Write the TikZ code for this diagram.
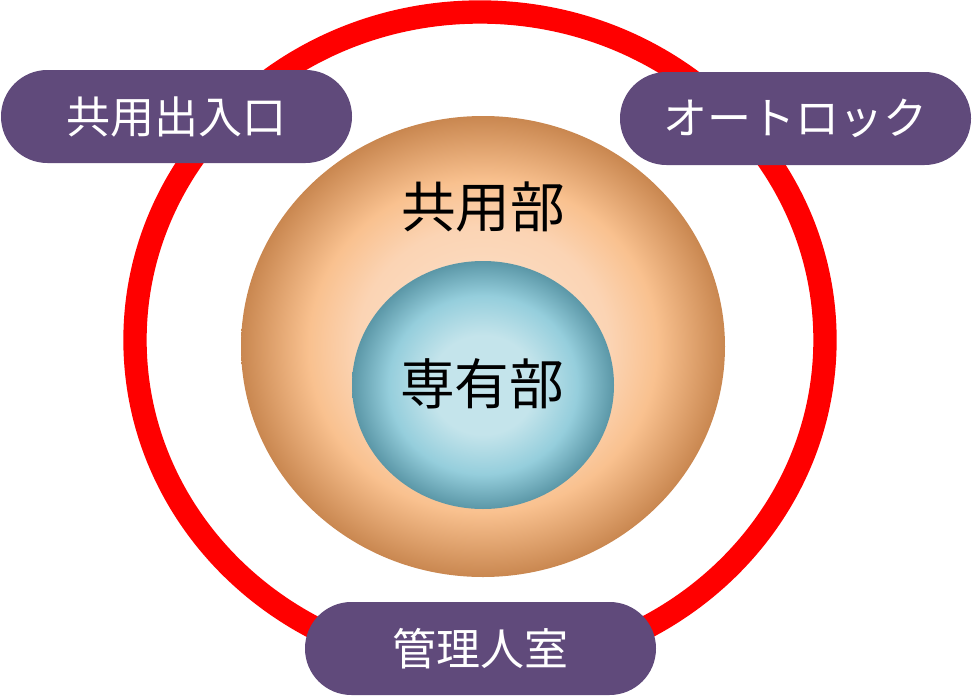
\documentclass[tikz,border=0pt]{standalone}
\usepackage{fontspec}
\newfontfamily\jpfont{Noto Sans CJK JP}
\usepackage{tikz}

\definecolor{pillpurple}{HTML}{604A7B}
\definecolor{ringred}{HTML}{FF0000}
\definecolor{sharedlight}{HTML}{FCE3CE}
\definecolor{sharedpale}{HTML}{FBD4B4}
\definecolor{sharedmid}{HTML}{F9C18F}
\definecolor{shareddark}{HTML}{C98750}
\definecolor{privatelight}{HTML}{C4E4EB}
\definecolor{privatemid}{HTML}{95CEDC}
\definecolor{privatedark}{HTML}{5B97A7}

\pgfdeclareradialshading{sharedshade}{\pgfpoint{0bp}{0bp}}{color(0bp)=(sharedlight); color(13bp)=(sharedpale); color(18bp)=(sharedmid); color(25bp)=(shareddark); color(50bp)=(shareddark)}
\pgfdeclareradialshading{privateshade}{\pgfpoint{0bp}{0bp}}{color(0bp)=(privatelight); color(10bp)=(privatelight); color(18bp)=(privatemid); color(25bp)=(privatedark); color(50bp)=(privatedark)}

\begin{document}
\begin{tikzpicture}[x=0.75pt,y=0.75pt,yscale=-1,xscale=1,
    pill/.style={fill=pillpurple, text=white, rounded corners=34.8pt, minimum width=263.25pt, minimum height=69.75pt, inner sep=0pt, font=\jpfont\fontsize{33}{33}\selectfont},
    zonelabel/.style={text=black, inner sep=0pt, font=\jpfont\fontsize{41}{41}\selectfont}]
    \useasboundingbox (0,0) rectangle (972,696);

    %Shape: Ellipse [red ring]
    \draw [color=ringred, line width=17.5pt] (480,340) ellipse [x radius=345, y radius=328];
    %Shape: Ellipse [common area]
    \shade [shading=sharedshade] (483,346.5) ellipse [x radius=242, y radius=230.5];
    %Shape: Ellipse [private area]
    \shade [shading=privateshade] (483,385) ellipse [x radius=131, y radius=124];

    % Text Node
    \node [zonelabel] (common) at (483,207) {共用部};
    % Text Node
    \node [zonelabel] (private) at (482,384) {専有部};

    % Pill Nodes
    \node [pill] (entrance) at (176.5,116.5) {共用出入口};
    \node [pill] (autolock) at (795.5,118.5) {オートロック};
    \node [pill] (office) at (480.5,648.5) {管理人室};
\end{tikzpicture}
\end{document}
